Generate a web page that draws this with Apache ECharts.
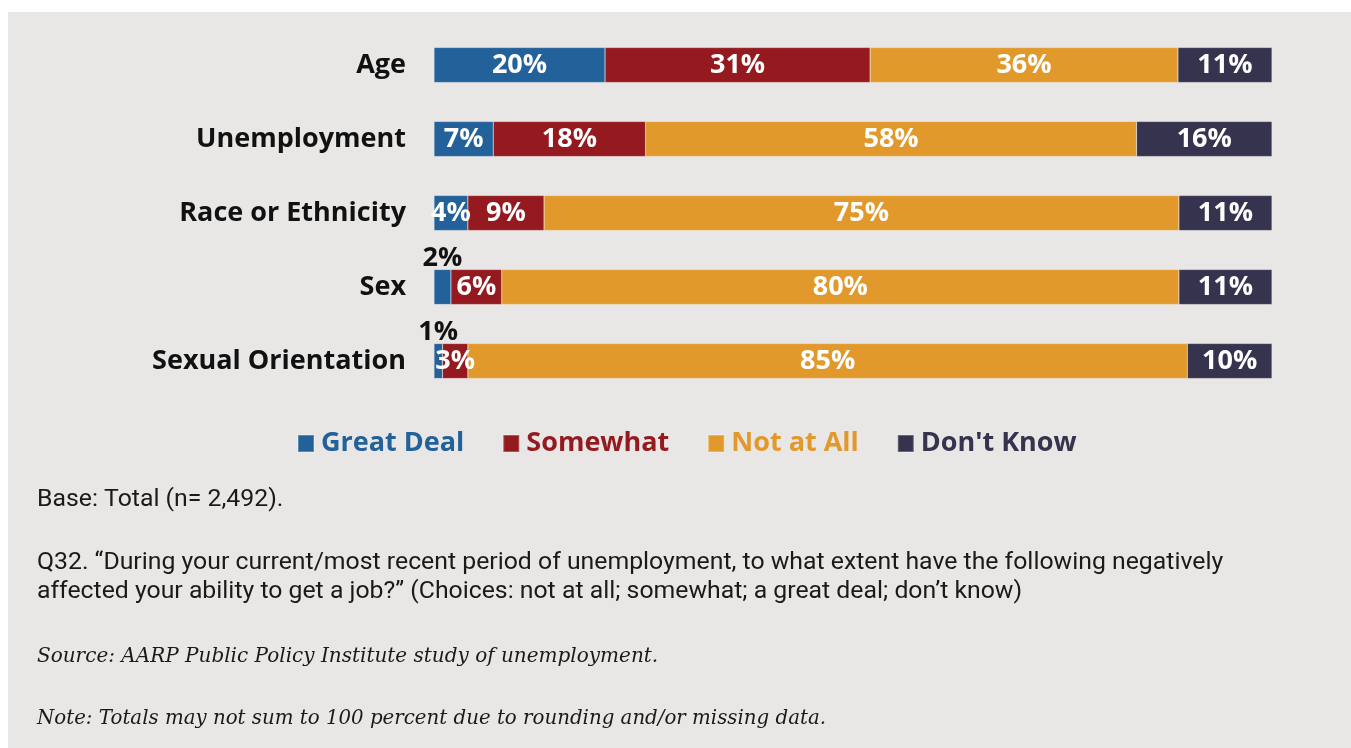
<!DOCTYPE html>
<html>
<head>
<meta charset="utf-8">
<script src="https://cdn.jsdelivr.net/npm/echarts@6/dist/echarts.min.js"></script>
<style>
html,body{margin:0;padding:0;background:#ffffff;}
#frame{position:absolute;left:8px;top:12px;width:1343px;height:736px;background:#e9e7e5;}
#chart{position:absolute;left:0;top:0;width:1351px;height:748px;}
</style>
</head>
<body>
<div id="frame"></div>
<div id="chart"></div>
<script>
const categories = ['Age', 'Unemployment', 'Race or Ethnicity', 'Sex', 'Sexual Orientation'];
const seriesNames = ['Great Deal', 'Somewhat', 'Not at All', "Don't Know"];
const greatDeal = [20, 7, 4, 2, 1];
const somewhat = [31, 18, 9, 6, 3];
const notAtAll = [36, 58, 75, 80, 85];
const dontKnow = [11, 16, 11, 11, 10];
const colors = ['#22619a', '#941a1f', '#e2992b', '#36334f'];

const allValues = [greatDeal, somewhat, notAtAll, dontKnow];
const rowTotals = categories.map((c, i) => allValues.reduce((s, arr) => s + arr[i], 0));

const labelFont = 'Open Sans';

const series = allValues.map((arr, si) => ({
  name: seriesNames[si],
  type: 'bar',
  stack: 'total',
  barWidth: 35,
  itemStyle: { color: colors[si], borderColor: 'rgba(255,255,255,0.25)', borderWidth: 0.6 },
  data: arr.map((v, i) => {
    const item = { value: v / rowTotals[i] * 100, raw: v };
    if (si === 0 && v <= 2) {
      item.label = { position: 'top', color: '#111111', distance: -2 };
    }
    return item;
  }),
  label: {
    show: true,
    position: 'inside',
    formatter: p => p.data.raw + '%',
    color: '#ffffff',
    fontFamily: labelFont,
    fontWeight: 'bold',
    fontSize: 27
  }
}));

const chart = echarts.init(document.getElementById('chart'), null, { renderer: 'canvas' });
chart.setOption({
  backgroundColor: 'transparent',
  animation: false,
  grid: { left: 434, right: 79, top: 28, height: 370, containLabel: false },
  xAxis: { type: 'value', min: 0, max: 100, show: false },
  yAxis: {
    type: 'category',
    data: categories,
    inverse: true,
    axisLine: { show: false },
    axisTick: { show: false },
    axisLabel: { color: '#111111', fontFamily: labelFont, fontWeight: 'bold', fontSize: 27, margin: 28 }
  },
  legend: {
    left: 297,
    top: 430,
    padding: 0,
    icon: 'rect',
    itemWidth: 16,
    itemHeight: 17,
    itemGap: 38,
    data: seriesNames.map((n, i) => ({ name: n, textStyle: { color: colors[i] } })),
    textStyle: { fontFamily: labelFont, fontWeight: 'bold', fontSize: 27, padding: [0, 0, 0, 2] }
  },
  title: [
    { text: 'Base: Total (n= 2,492).', left: 37, top: 487, padding: 0, textStyle: { fontFamily: 'Roboto', fontWeight: 'normal', fontSize: 24.8, color: '#1a1a1a' } },
    { text: 'Q32. \u201cDuring your current/most recent period of unemployment, to what extent have the following negatively\naffected your ability to get a job?\u201d (Choices: not at all; somewhat; a great deal; don\u2019t know)', left: 37, top: 548.5, padding: 0, textStyle: { fontFamily: 'Roboto', fontWeight: 'normal', fontSize: 24.8, lineHeight: 29, color: '#1a1a1a' } },
    { text: 'Source: AARP Public Policy Institute study of unemployment.', left: 37, top: 647, padding: 0, textStyle: { fontFamily: 'DejaVu Serif', fontStyle: 'italic', fontWeight: 'normal', fontSize: 20, color: '#1a1a1a' } },
    { text: 'Note: Totals may not sum to 100 percent due to rounding and/or missing data.', left: 37, top: 709, padding: 0, textStyle: { fontFamily: 'DejaVu Serif', fontStyle: 'italic', fontWeight: 'normal', fontSize: 19.8, color: '#1a1a1a' } }
  ],
  series: series
});
</script>
</body>
</html>
